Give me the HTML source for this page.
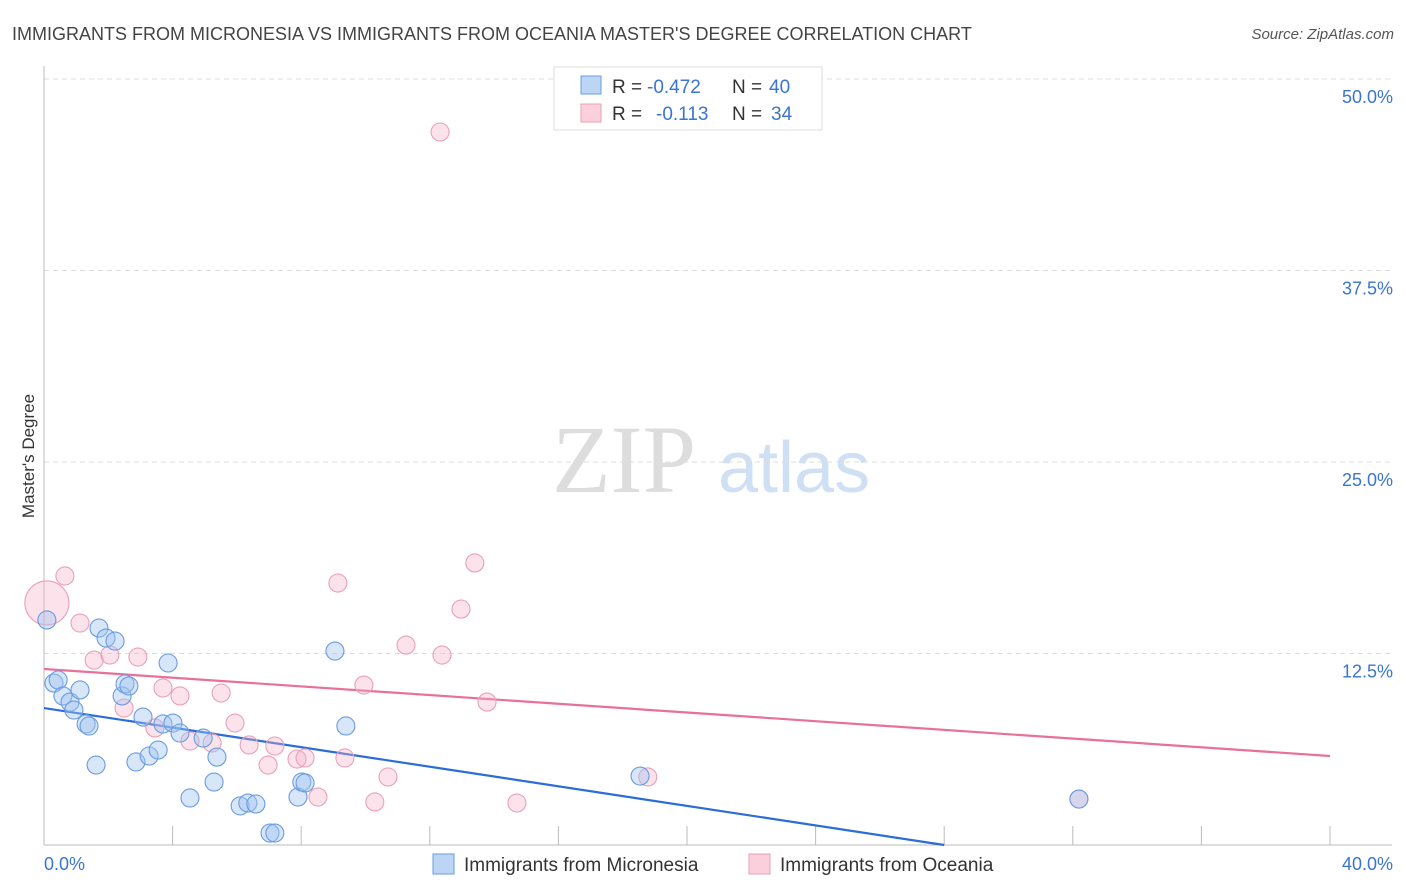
<!DOCTYPE html>
<html><head><meta charset="utf-8"><style>
body{margin:0;background:#fff;font-family:"Liberation Sans",sans-serif;}
svg{display:block}
</style></head><body>
<svg id="chart" width="1406" height="892">
<text x="12" y="40" font-size="18" fill="#444">IMMIGRANTS FROM MICRONESIA VS IMMIGRANTS FROM OCEANIA MASTER'S DEGREE CORRELATION CHART</text>
<text x="1394" y="39" font-size="15" fill="#555" font-style="italic" text-anchor="end">Source: ZipAtlas.com</text>
<g>
<text x="552" y="492" font-size="96" fill="#ddd" font-family="Liberation Serif,serif">ZIP</text>
<text x="718" y="492" font-size="72" fill="#cfe0f5">atlas</text>
</g>
<g id="grid"></g>
<g id="axes"></g>
<g id="lines"></g>
<g id="pts"></g>
<text transform="translate(34,456) rotate(-90)" font-size="17" fill="#333" text-anchor="middle">Master's Degree</text>
<g>
<rect x="554" y="67" width="268" height="63" fill="#fff" stroke="#ddd"/>
<rect x="581" y="76" width="20" height="18" fill="#bcd5f5" stroke="#6a9be0"/>
<text x="612" y="93" font-size="19" fill="#333">R =</text>
<text x="647" y="93" font-size="19" fill="#3a75d0">-0.472</text>
<text x="732" y="93" font-size="19" fill="#333">N =</text>
<text x="769" y="93" font-size="19" fill="#3a75d0">40</text>
<rect x="581" y="104" width="20" height="18" fill="#fbd0dc" stroke="#eaa0b8"/>
<text x="612" y="120" font-size="19" fill="#333">R =</text>
<text x="656" y="120" font-size="19" fill="#3a75d0">-0.113</text>
<text x="732" y="120" font-size="19" fill="#333">N =</text>
<text x="771" y="120" font-size="19" fill="#3a75d0">34</text>
</g>
<g>
<rect x="433" y="854" width="21" height="20" fill="#bcd5f5" stroke="#6a9be0"/>
<text x="464" y="871" font-size="19" fill="#333">Immigrants from Micronesia</text>
<rect x="749" y="854" width="21" height="20" fill="#fbd0dc" stroke="#eaa0b8"/>
<text x="780" y="871" font-size="19" fill="#333">Immigrants from Oceania</text>
</g>
</svg>
<script>
const blueX=[0.09,0.31,0.44,0.59,0.81,0.93,1.12,1.31,1.40,1.62,1.71,1.93,2.21,2.43,2.52,2.64,2.86,3.08,3.27,3.55,3.70,3.86,4.01,4.23,4.54,4.95,5.29,5.38,6.10,6.34,6.59,7.03,7.18,7.90,8.02,8.12,9.05,9.39,18.54,32.19];
const blueY=[14.69,10.57,10.77,9.73,9.33,8.81,10.12,7.90,7.77,5.22,14.16,13.51,13.31,9.73,10.51,10.38,5.42,8.35,5.81,6.20,7.90,11.88,7.96,7.31,3.07,6.98,4.11,5.74,2.55,2.74,2.68,0.78,0.78,3.13,4.11,4.05,12.66,7.77,4.50,3.00];
const pinkX=[0.09,0.65,1.12,1.56,2.05,2.49,2.92,3.45,3.70,4.23,4.54,5.23,5.51,5.94,6.38,6.97,7.18,7.87,8.12,8.52,9.14,9.36,9.95,10.29,10.70,11.26,12.38,12.32,12.97,13.40,13.78,14.71,18.78,32.19];
const pinkY=[15.80,17.56,14.49,12.07,12.40,8.94,12.27,7.64,10.25,9.73,6.79,6.66,9.92,7.96,6.53,5.22,6.46,5.61,5.68,3.13,17.10,5.68,10.44,2.81,4.44,13.05,12.40,46.54,15.40,18.41,9.33,2.74,4.44,3.00];
const blueTrend=[8.94,0.0,28.0];
const pinkTrend=[11.49,5.81,40];
const yTicks=[12.5,25,37.5,50];
const yTickLabels=["12.5%","25.0%","37.5%","50.0%"];
const xEndLabels=["0.0%","40.0%"];
const NS="http://www.w3.org/2000/svg";
const sx=v=>44+v/40*1286, sy=v=>845-v/50*766;
function mk(parent,tag,attrs){const e=document.createElementNS(NS,tag);for(const k in attrs)e.setAttribute(k,attrs[k]);document.getElementById(parent).appendChild(e);return e;}
yTicks.forEach((t,i)=>{
 const g=mk('grid','line',{x1:44,x2:1392,y1:sy(t),y2:sy(t),stroke:'#ddd','stroke-dasharray':'5,4'});
 
 
 const tx=mk('axes','text',{x:1393,y:sy(t)+24,'font-size':18,fill:'#3a75d0','text-anchor':'end'});
 tx.textContent=yTickLabels[i];
 
 
});
const ax=mk('axes','line',{x1:44,x2:44,y1:66,y2:845,stroke:'#bbb'});


const bx=mk('axes','line',{x1:44,x2:1392,y1:845,y2:845,stroke:'#bbb'});


for(let i=1;i<=10;i++){
 const t=mk('axes','line',{x1:sx(i*4),x2:sx(i*4),y1:826,y2:845,stroke:'#bbb'});
 
 
}
const l0=mk('axes','text',{x:44,y:870,'font-size':18,fill:'#3a75d0'});l0.textContent=xEndLabels[0];


const l1=mk('axes','text',{x:1393,y:870,'font-size':18,fill:'#3a75d0','text-anchor':'end'});l1.textContent=xEndLabels[1];


function dots(xs,ys,fill,stroke,name){
 xs.forEach((x,i)=>{
  const big=(name==='oceania-point'&&i===0);
  const c=mk('pts','circle',{cx:sx(x),cy:sy(ys[i]),r:big?22:9,fill:fill,stroke:stroke,'stroke-width':1.1});
  
  
 });
}
dots(pinkX,pinkY,'rgba(245,175,198,0.35)','#eaa0b8','oceania-point');
dots(blueX,blueY,'rgba(160,196,240,0.42)','#6a9be0','micronesia-point');
const bl=mk('lines','line',{x1:sx(0),y1:sy(blueTrend[0]),x2:sx(blueTrend[2]),y2:sy(blueTrend[1]),stroke:'#2a6dd8','stroke-width':2.2});


const pl=mk('lines','line',{x1:sx(0),y1:sy(pinkTrend[0]),x2:sx(pinkTrend[2]),y2:sy(pinkTrend[1]),stroke:'#e8709a','stroke-width':2.2});


</script>
</body></html>
